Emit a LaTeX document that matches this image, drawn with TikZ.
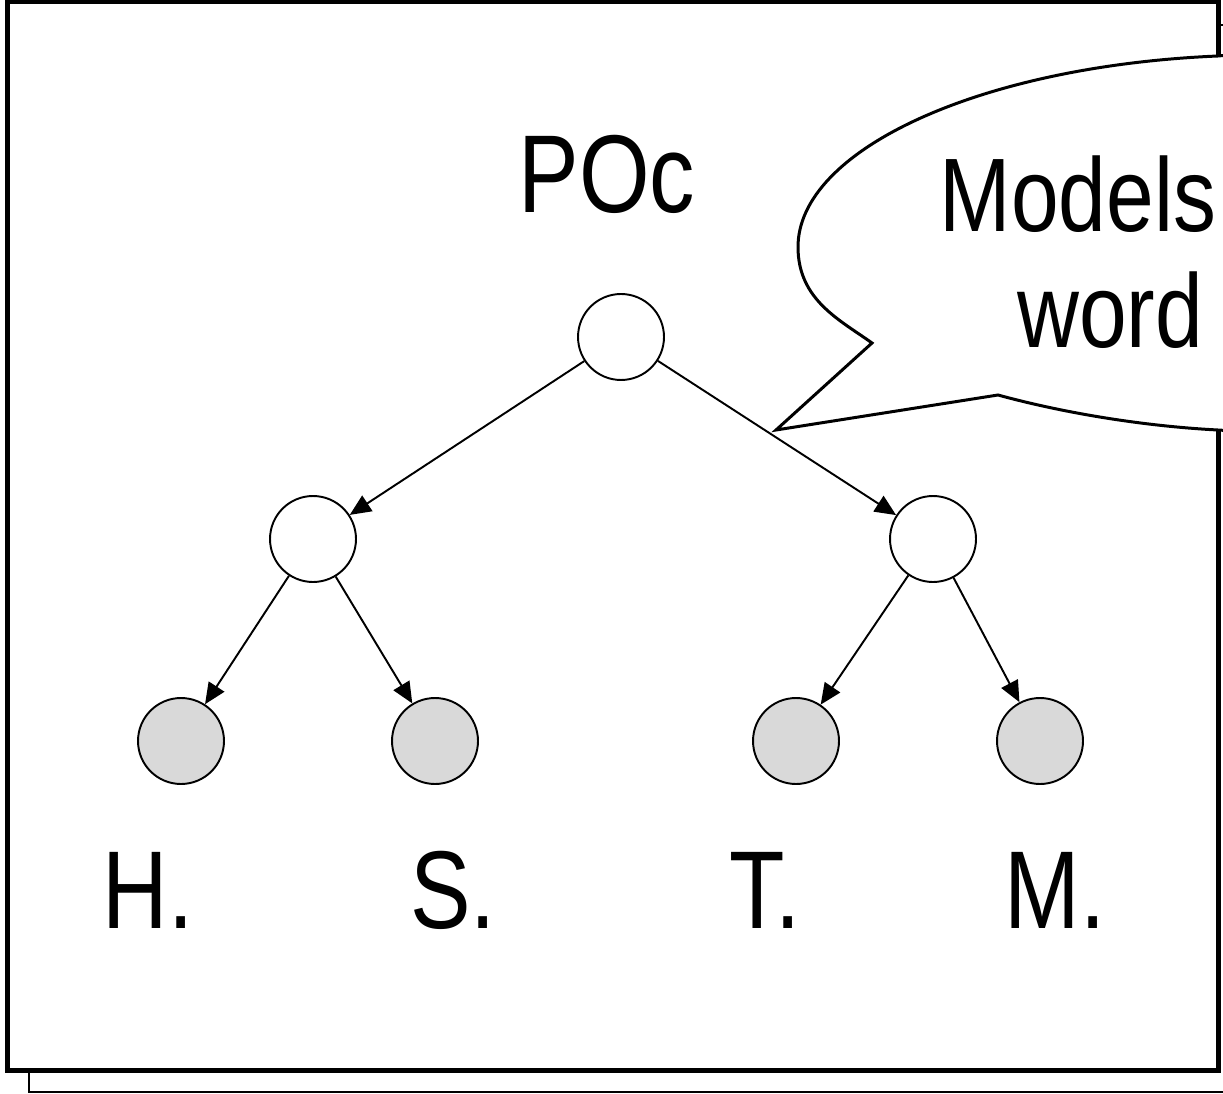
\documentclass[tikz,border=0pt]{standalone}
\usepackage{fontspec}
\setmainfont{Liberation Sans}[FakeStretch=0.82]
\usepackage{tikz}
\usetikzlibrary{arrows.meta, positioning}
\definecolor{leafgray}{RGB}{217,217,217}

\begin{document}
\begin{tikzpicture}[x=0.02cm, y=-0.02cm, font=\fontsize{63}{70}\selectfont]
\tikzstyle{branch} = [circle, draw=black, fill=white, minimum size=1.72cm, inner sep=0pt, line width=1.1pt]
\tikzstyle{leaf} = [branch, fill=leafgray]
\tikzstyle{line} = [draw, -{Triangle[length=12pt,width=10.5pt]}, line width=1.1pt]
\tikzstyle{tag} = [anchor=base, inner sep=0pt]
\tikzstyle{bubble} = [draw=black, fill=white, line width=1.7pt, line join=miter]

\useasboundingbox (0,0) rectangle (1223,1094);
\clip (0,0) rectangle (1223,1094);

% panel, with its offset copy behind
\draw [line width=1.1pt] (29,25) rectangle (1260,1092);
\draw [line width=2.8pt, fill=white] (7.5,2) rectangle (1218.5,1070.5);

% tree
\node (root) [branch] at (621,337) {};
\node (left) [branch] at (313,539) {};
\node (right) [branch] at (933,539) {};
\node (h) [leaf] at (181,741) {};
\node (s) [leaf] at (435,741) {};
\node (t) [leaf] at (796,741) {};
\node (m) [leaf] at (1040,741) {};

\node (poc) [tag] at (607,213) {POc};
\node (hname) [tag] at (148,928) {H.};
\node (sname) [tag] at (453,928) {S.};
\node (tname) [tag] at (765,928) {T.};
\node (mname) [tag] at (1055,928) {M.};

\draw [line] (root) -- (left);
\draw [line] (root) -- (right);
\draw [line] (left) -- (h);
\draw [line] (left) -- (s);
\draw [line] (right) -- (t);
\draw [line] (right) -- (m);

% speech bubble
\draw [bubble] (1250,53) -- (1218,56)
  .. controls (980,66) and (798,150) .. (798,247)
  .. controls (798,300) and (840,320) .. (872,343)
  -- (776,430) -- (998,395)
  .. controls (1060,412) and (1140,426) .. (1218,430)
  -- (1250,432) -- cycle;
\node (models) [tag, font=\fontsize{59.5}{66}\selectfont] at (1078,232) {Models};
\node (word) [tag, font=\fontsize{59.5}{66}\selectfont] at (1110,348) {word};
\end{tikzpicture}
\end{document}
